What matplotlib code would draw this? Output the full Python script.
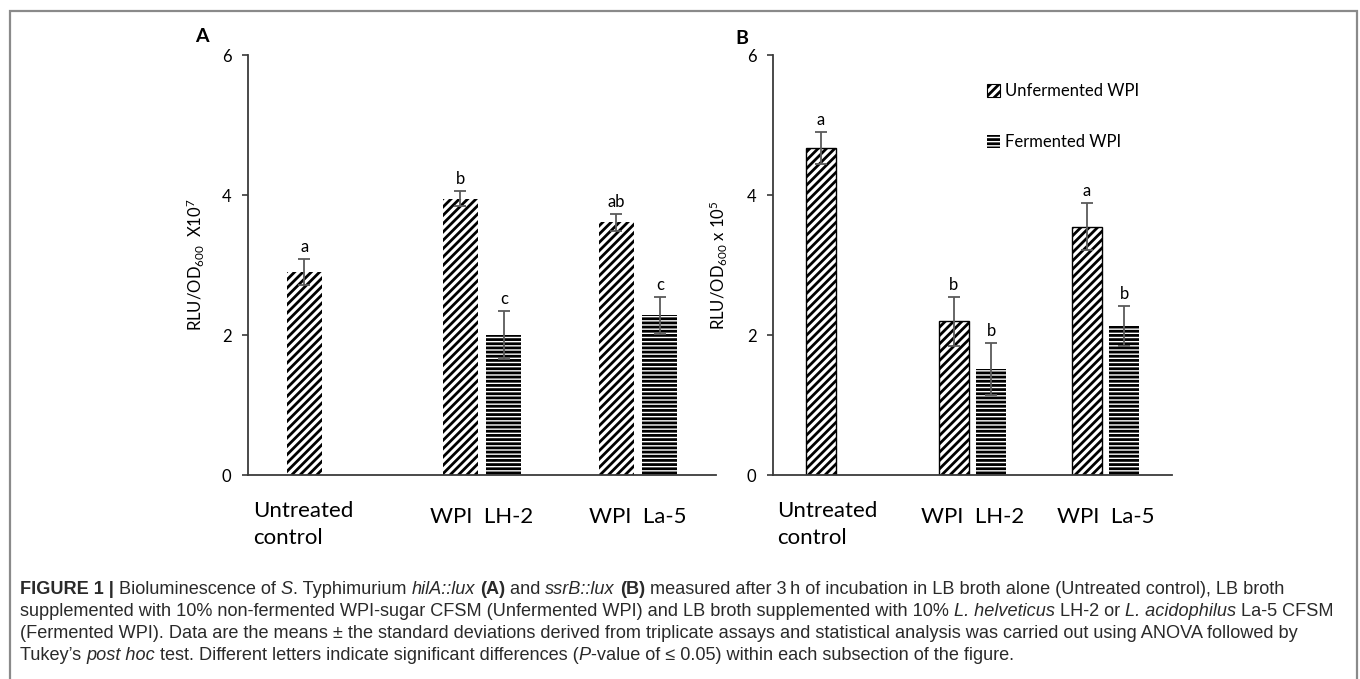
import numpy as np
import matplotlib
matplotlib.use("Agg")
import matplotlib.pyplot as plt
from matplotlib.patches import Patch, Rectangle
from matplotlib.transforms import blended_transform_factory

# ---- data (means, SD and Tukey letters) ----
groups = ["Untreated\ncontrol", "WPI  LH-2", "WPI  La-5"]

# panel A: hilA::lux, RLU/OD600 x 10^7
a_unferm = [2.90, 3.95, 3.61]
a_unferm_sd = [0.18, 0.11, 0.12]
a_unferm_sig = ["a", "b", "ab"]
a_ferm = [2.00, 2.28]          # LH-2, La-5 only
a_ferm_sd = [0.34, 0.26]
a_ferm_sig = ["c", "c"]

# panel B: ssrB::lux, RLU/OD600 x 10^5
b_unferm = [4.67, 2.20, 3.55]
b_unferm_sd = [0.23, 0.35, 0.33]
b_unferm_sig = ["a", "b", "a"]
b_ferm = [1.51, 2.13]
b_ferm_sd = [0.37, 0.29]
b_ferm_sig = ["b", "b"]

yticks = [0, 2, 4, 6]

# ---- style ----
W, H = 1360, 679
plt.rcParams["font.family"] = ["Lato", "DejaVu Sans"]
plt.rcParams["mathtext.fontset"] = "custom"
plt.rcParams["mathtext.rm"] = "Lato"
plt.rcParams["mathtext.it"] = "Lato:italic"
plt.rcParams["mathtext.bf"] = "Lato:bold"
plt.rcParams["hatch.linewidth"] = 2.0
plt.rcParams["hatch.color"] = "black"

cap_font = ["Liberation Sans", "DejaVu Sans"]
cap_color = "#2a2a2a"
axis_color = "#3a3a3a"
err_color = "#5a5a5a"

fig = plt.figure(figsize=(W / 100, H / 100), dpi=100)

def px_axes(left, right, top, bottom):
    return fig.add_axes([left / W, 1 - bottom / H, (right - left) / W, (bottom - top) / H])

axA = px_axes(248, 716, 55, 475)
axB = px_axes(773, 1172, 55, 475)

x = np.arange(len(groups))
bw = 0.225
off = 0.14


def panel(ax, unferm, unferm_sd, unferm_sig, ferm, ferm_sd, ferm_sig, edge_lw, ylabel, lab_x):
    ax.bar(x - off, unferm, width=bw, color="white", edgecolor="black",
           hatch="////", linewidth=edge_lw, zorder=2)
    ax.bar(x[1:] + off, ferm, width=bw, color="white", edgecolor="black",
           hatch="----", linewidth=0, zorder=2)
    ax.errorbar(x - off, unferm, yerr=unferm_sd, fmt="none", ecolor=err_color,
                elinewidth=1.3, capsize=4.5, capthick=1.3, zorder=3)
    ax.errorbar(x[1:] + off, ferm, yerr=ferm_sd, fmt="none", ecolor=err_color,
                elinewidth=1.3, capsize=4.5, capthick=1.3, zorder=3)

    # significance letters above the error bars
    for xi, v, s, lab in zip(x - off, unferm, unferm_sd, unferm_sig):
        ax.annotate(lab, (xi, v + s), xytext=(0, 5), textcoords="offset points",
                    ha="center", va="baseline", fontsize=12, color="black")
    for xi, v, s, lab in zip(x[1:] + off, ferm, ferm_sd, ferm_sig):
        ax.annotate(lab, (xi, v + s), xytext=(0, 5), textcoords="offset points",
                    ha="center", va="baseline", fontsize=12, color="black")

    ax.set_xlim(-0.5, 2.5)
    ax.set_ylim(0, 6)
    ax.set_yticks(yticks)
    ax.tick_params(axis="y", length=4, width=1.2, color=axis_color, pad=8,
                   labelsize=12, labelcolor="black")
    ax.set_xticks([])
    for side in ["top", "right"]:
        ax.spines[side].set_visible(False)
    for side in ["left", "bottom"]:
        ax.spines[side].set_color(axis_color)
        ax.spines[side].set_linewidth(1.3)

    ax.set_ylabel(ylabel, fontsize=12, color="black")
    ax.yaxis.set_label_coords(lab_x, 0.5)

    # category labels under the axis
    tr = blended_transform_factory(ax.transData, ax.transAxes)
    ax.text(-0.47, -0.118, groups[0], transform=tr, ha="left", va="center",
            fontsize=16, linespacing=1.4, color="black")
    for xi, g in zip(x[1:], groups[1:]):
        ax.text(xi, -0.1, g, transform=tr, ha="center", va="center",
                fontsize=16, color="black")


panel(axA, a_unferm, a_unferm_sd, a_unferm_sig, a_ferm, a_ferm_sd, a_ferm_sig,
      0, r"RLU/OD$_{600}$  X10$^{7}$", -41 / 468)
panel(axB, b_unferm, b_unferm_sd, b_unferm_sig, b_ferm, b_ferm_sd, b_ferm_sig,
      1.0, r"RLU/OD$_{600}$ x 10$^{5}$", -43 / 399)

# legend in panel B
handles = [Patch(facecolor="white", edgecolor="black", hatch="////", linewidth=0.8),
           Patch(facecolor="white", edgecolor="black", hatch="----", linewidth=0)]
axB.legend(handles, ["Unfermented WPI", "Fermented WPI"], loc="upper left",
           bbox_to_anchor=(987 / W, 1 - 83 / H), bbox_transform=fig.transFigure,
           frameon=False, fontsize=12, handlelength=0.8, handleheight=0.8,
           handletextpad=0.3, labelspacing=2.1, borderpad=0, borderaxespad=0)

# panel letters
fig.text(202 / W, 1 - 36 / H, "A", fontsize=14, fontweight="bold", ha="center", va="center")
fig.text(742 / W, 1 - 38 / H, "B", fontsize=14, fontweight="bold", ha="center", va="center")

# frame around the figure
fig.patches.append(Rectangle((10 / W, -0.1), 1347 / W, 1.1 - 11 / H, transform=fig.transFigure,
                             fill=False, edgecolor="#8a8a8a", linewidth=1.6))

# ---- caption, written run by run so bold/italic can be mixed ----
renderer = fig.canvas.get_renderer()
cap_size = 13.1


def caption_line(y_px, runs):
    xp = 20
    for s, st in runs:
        t = fig.text(xp / W, 1 - y_px / H, s, fontsize=cap_size, family=cap_font,
                     fontweight="bold" if st == "b" else "normal",
                     fontstyle="italic" if st == "i" else "normal",
                     color=cap_color, ha="left", va="center")
        prop = t.get_fontproperties()
        w1 = renderer.get_text_width_height_descent(s + "|", prop, ismath=False)[0]
        w2 = renderer.get_text_width_height_descent("|", prop, ismath=False)[0]
        xp += w1 - w2


caption_line(589, [("FIGURE 1 | ", "b"), ("Bioluminescence of ", "n"), ("S", "i"),
                   (". Typhimurium ", "n"), ("hilA::lux", "i"), (" ", "n"), ("(A)", "b"),
                   (" and ", "n"), ("ssrB::lux", "i"), (" ", "n"), ("(B)", "b"),
                   (" measured after 3\u2009h of incubation in LB broth alone (Untreated control), LB broth", "n")])
caption_line(612, [("supplemented with 10% non-fermented WPI-sugar CFSM (Unfermented WPI) and LB broth supplemented with 10% ", "n"),
                   ("L. helveticus", "i"), (" LH-2 or ", "n"), ("L. acidophilus", "i"), (" La-5 CFSM", "n")])
caption_line(634, [("(Fermented WPI). Data are the means \u00b1 the standard deviations derived from triplicate assays and statistical analysis was carried out using ANOVA followed by", "n")])
caption_line(656, [("Tukey\u2019s ", "n"), ("post hoc", "i"),
                   (" test. Different letters indicate significant differences (", "n"), ("P", "i"),
                   ("-value of \u2264 0.05) within each subsection of the figure.", "n")])

fig.savefig("out.png", dpi=100, facecolor="white")
